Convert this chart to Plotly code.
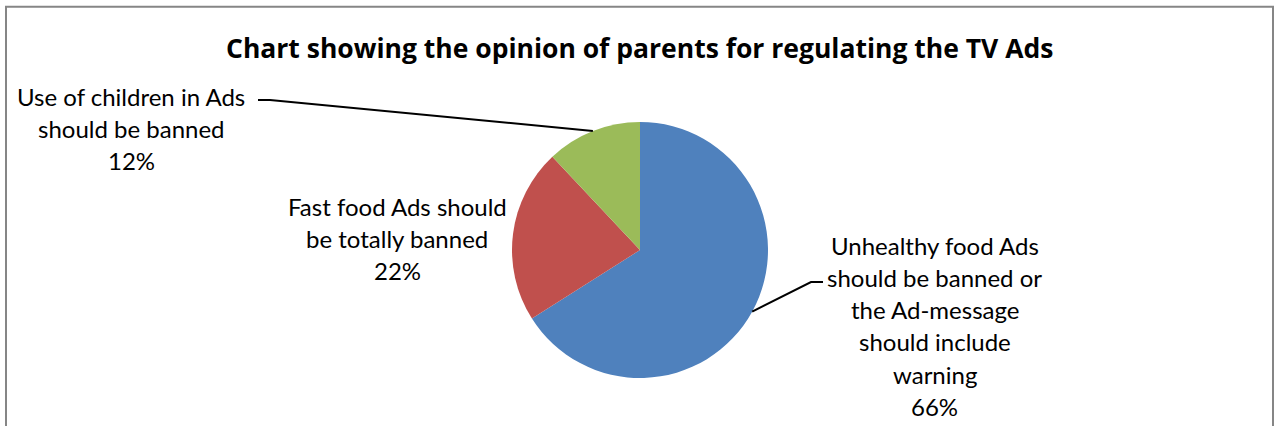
import math
import plotly.graph_objects as go

# Survey answers of parents about regulating TV advertising
categories = [
    "Unhealthy food Ads<br>should be banned or<br>the Ad-message<br>should include<br>warning",
    "Fast food Ads should<br>be totally banned",
    "Use of children in Ads<br>should be banned",
]
shares = [66, 22, 12]
colors = ["#4F81BD", "#C0504D", "#9BBB59"]
title_text = "Chart showing the opinion of parents for regulating the TV Ads"

W, H = 1275, 426
FONT = "Lato, Calibri, Arial, sans-serif"
TITLE_FONT = "Open Sans, Calibri, Arial, sans-serif"

# pie placement in pixels
PIE_CX, PIE_CY, PIE_R = 640, 250, 128


def px(x):
    return x / W


def py(y):
    return 1 - y / H


fig = go.Figure(
    go.Pie(
        labels=[c.replace("<br>", " ") for c in categories],
        values=shares,
        sort=False,
        direction="clockwise",
        rotation=0,
        marker=dict(colors=colors, line=dict(width=0)),
        textinfo="none",
        hoverinfo="label+percent",
        showlegend=False,
        domain=dict(
            x=[px(PIE_CX - PIE_R), px(PIE_CX + PIE_R)],
            y=[py(PIE_CY + PIE_R), py(PIE_CY - PIE_R)],
        ),
    )
)

# mid-angle of each slice on the rim (clockwise from 12 o'clock)
total = sum(shares)
rim = []
acc = 0
for v in shares:
    mid = (acc + v / 2) / total * 2 * math.pi
    rim.append((PIE_CX + PIE_R * math.sin(mid), PIE_CY - PIE_R * math.cos(mid)))
    acc += v

# label block centres (x, y of first line) and line spacing
label_pos = [(935, 245), (397, 206), (131, 96)]
LINE_GAP = 32.3

annotations = [
    dict(
        text=f"<b>{title_text}</b>",
        x=px(639), y=py(48), xref="paper", yref="paper",
        xanchor="center", yanchor="middle", showarrow=False,
        font=dict(family=TITLE_FONT, size=26.5, color="#000000"),
    )
]
for cat, v, (lx, ly) in zip(categories, shares, label_pos):
    lines = cat.split("<br>") + [f"{round(v / total * 100)}%"]
    for i, line in enumerate(lines):
        annotations.append(
            dict(
                text=line,
                x=px(lx), y=py(ly + i * LINE_GAP), xref="paper", yref="paper",
                xanchor="center", yanchor="middle", showarrow=False,
                font=dict(family=FONT, size=24, color="#000000"),
            )
        )

shapes = [
    # chart frame
    dict(type="rect", xref="paper", yref="paper",
         x0=px(6), x1=px(1273), y0=py(440), y1=py(6.7),
         line=dict(color="#868686", width=2), fillcolor="rgba(0,0,0,0)"),
]

# leader lines: unhealthy-food slice to its label, children slice to its label
bx, by = rim[0]
shapes.append(dict(type="path", xref="paper", yref="paper",
                   path=f"M {px(bx)},{py(by)} L {px(811)},{py(282)} L {px(823)},{py(282)}",
                   line=dict(color="#000000", width=2)))
gx, gy = rim[2]
shapes.append(dict(type="path", xref="paper", yref="paper",
                   path=f"M {px(gx)},{py(gy)} L {px(270)},{py(100)} L {px(258)},{py(100)}",
                   line=dict(color="#000000", width=2)))

fig.update_layout(
    width=W, height=H,
    margin=dict(l=0, r=0, t=0, b=0),
    paper_bgcolor="#FFFFFF",
    plot_bgcolor="#FFFFFF",
    annotations=annotations,
    shapes=shapes,
)

fig.write_html("out.html")
